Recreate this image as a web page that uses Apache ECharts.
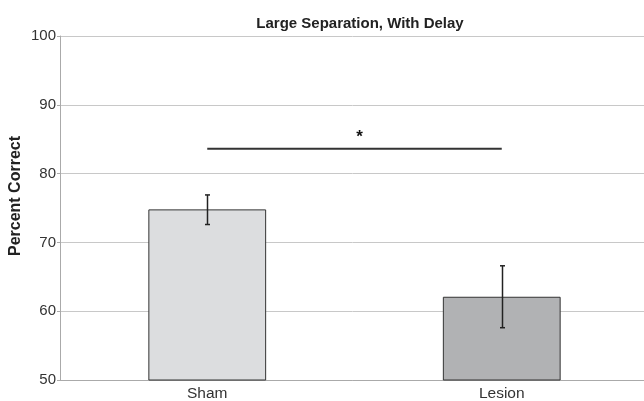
<!DOCTYPE html>
<html>
<head>
<meta charset="utf-8">
<script src="https://cdn.jsdelivr.net/npm/echarts@6/dist/echarts.min.js"></script>
<style>html,body{margin:0;padding:0;background:#fff}#c{width:644px;height:401px}</style>
</head>
<body>
<div id="c"></div>
<script>
const categories = ['Sham', 'Lesion'];
const means = [74.8, 62.1];
const errLow = [72.6, 57.6];
const errHigh = [76.9, 66.6];
const sigLevel = 83.6;
const sigLabel = '*';
const barColors = ['#dcdddf', '#b1b2b4'];
const yMin = 50, yMax = 100, yStep = 10;

const chart = echarts.init(document.getElementById('c'), null, {renderer: 'canvas'});
const font = 'Liberation Sans, Arial, sans-serif';

chart.setOption({
  animation: false,
  title: {
    text: 'Large Separation, With Delay',
    left: 355, top: 11, textAlign: 'center',
    textStyle: {fontFamily: font, fontSize: 15, fontWeight: 'bold', color: '#222'}
  },
  grid: {left: 60, width: 589, top: 36, bottom: 21, outerBoundsMode: 'none', containLabel: false},
  xAxis: {
    type: 'category',
    data: categories,
    axisLine: {lineStyle: {color: '#aaa', width: 1}},
    axisTick: {show: false},
    axisLabel: {margin: 6, fontFamily: font, fontSize: 15.5, color: '#333'}
  },
  yAxis: {
    type: 'value',
    min: yMin, max: yMax, interval: yStep,
    axisLine: {show: true, lineStyle: {color: '#aaa', width: 1}},
    axisTick: {show: true, length: 3, lineStyle: {color: '#aaa'}},
    splitLine: {lineStyle: {color: '#c8c8c8', width: 1}},
    axisLabel: {margin: 4, fontFamily: font, fontSize: 15, color: '#333'}
  },
  graphic: [{
    type: 'text', x: 16, y: 196, rotation: Math.PI / 2,
    style: {text: 'Percent Correct', fontFamily: font, fontSize: 16, fontWeight: 'bold',
            fill: '#222', align: 'center', verticalAlign: 'middle'}
  }],
  series: [
    {
      type: 'bar',
      barWidth: '40%',
      data: means.map((v, i) => ({value: v, itemStyle: {color: barColors[i]}})),
      itemStyle: {borderColor: '#333', borderWidth: 1},
      z: 2
    },
    {
      type: 'custom',
      data: categories.map((c, i) => [i, errLow[i], errHigh[i]]),
      renderItem: function (params, api) {
        const lo = api.coord([api.value(0), api.value(1)]);
        const hi = api.coord([api.value(0), api.value(2)]);
        const x = Math.round(lo[0]) + 0.5;
        const w = 2.5;
        const st = {stroke: '#222', lineWidth: 1.5};
        return {
          type: 'group',
          children: [
            {type: 'line', shape: {x1: x, y1: lo[1], x2: x, y2: hi[1]}, style: st},
            {type: 'line', shape: {x1: x - w, y1: lo[1], x2: x + w, y2: lo[1]}, style: st},
            {type: 'line', shape: {x1: x - w, y1: hi[1], x2: x + w, y2: hi[1]}, style: st}
          ]
        };
      },
      z: 3
    },
    {
      type: 'custom',
      data: [[0, 1, sigLevel]],
      renderItem: function (params, api) {
        const a = api.coord([api.value(0), api.value(2)]);
        const b = api.coord([api.value(1), api.value(2)]);
        const mid = (a[0] + b[0]) / 2 + 5;
        return {
          type: 'group',
          children: [
            {type: 'line', shape: {x1: a[0], y1: a[1], x2: b[0], y2: b[1]},
             style: {stroke: '#333', lineWidth: 2}},
            {type: 'text', x: mid, y: a[1] - 12,
             style: {text: sigLabel, fontFamily: font, fontSize: 17, fontWeight: 'bold',
                     fill: '#111', align: 'center', verticalAlign: 'middle'}}
          ]
        };
      },
      z: 4
    }
  ]
});
</script>
</body>
</html>
